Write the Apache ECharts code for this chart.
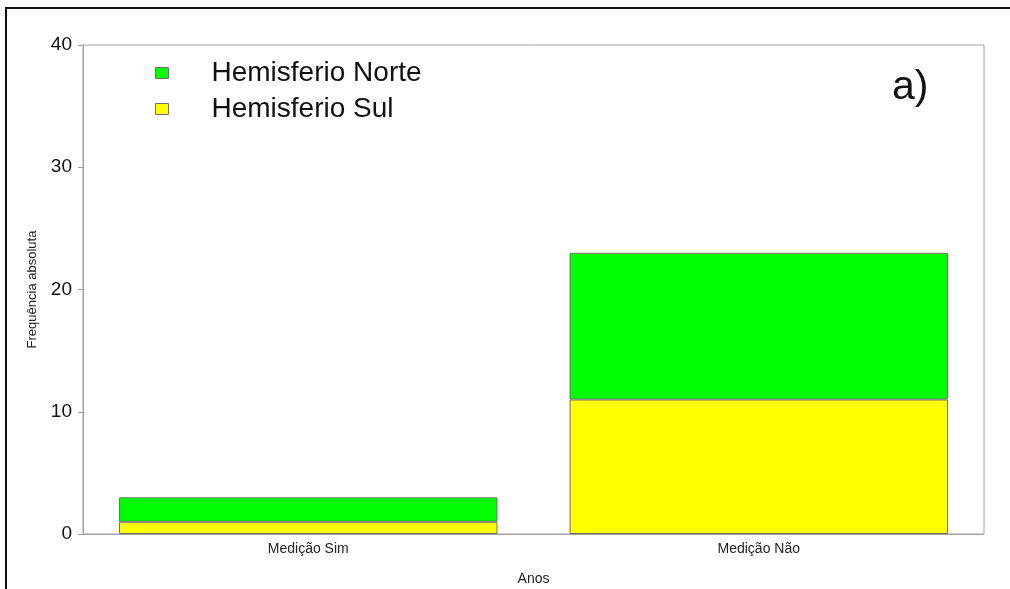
<!DOCTYPE html>
<html>
<head>
<meta charset="utf-8">
<script src="https://cdn.jsdelivr.net/npm/echarts@6/dist/echarts.min.js"></script>
<style>
  html, body { margin: 0; padding: 0; background: #fff; }
  #chart { width: 1010px; height: 589px; }
</style>
</head>
<body>
<div id="chart"></div>
<script>
// categorias e valores (frequência absoluta)
const categorias = ['Medição Sim', 'Medição Não'];
const hemisferioSul = [1, 11];
const hemisferioNorte = [2, 12];
const yTicks = [0, 10, 20, 30, 40];

const chart = echarts.init(document.getElementById('chart'));
const fonte = '"Liberation Sans", Arial, sans-serif';

const option = {
  animation: false,
  textStyle: { fontFamily: fonte },
  grid: {
    left: 83,
    right: 26,
    top: 45,
    bottom: 55,
    outerBoundsMode: 'none',
    show: true,
    borderColor: '#a0a0a0',
    borderWidth: 1
  },
  graphic: [
    {
      type: 'polyline',
      shape: { points: [[6, 589], [6, 8], [1010, 8]] },
      style: { stroke: '#111', lineWidth: 2, fill: null }
    },
    {
      type: 'text',
      left: 892,
      top: 67,
      style: { text: 'a)', font: '41px ' + fonte, fill: '#111' }
    }
  ],
  legend: {
    orient: 'vertical',
    left: 150,
    top: 54,
    icon: 'rect',
    itemWidth: 13,
    itemHeight: 11,
    itemGap: 8,
    data: ['Hemisferio Norte', 'Hemisferio Sul'],
    itemStyle: { borderColor: '#707070', borderWidth: 1 },
    textStyle: { fontSize: 28, color: '#111', padding: [0, 0, 0, 38] }
  },
  xAxis: {
    type: 'category',
    data: categorias,
    name: 'Anos',
    nameLocation: 'middle',
    nameGap: 38,
    nameTextStyle: { fontSize: 14, color: '#222' },
    axisLine: { lineStyle: { color: '#a0a0a0' } },
    axisTick: { show: false },
    axisLabel: { fontSize: 14, color: '#222', margin: 8 }
  },
  yAxis: {
    type: 'value',
    min: yTicks[0],
    max: yTicks[yTicks.length - 1],
    interval: 10,
    name: 'Frequência absoluta',
    nameLocation: 'middle',
    nameGap: 44,
    nameTextStyle: { fontSize: 13, color: '#222' },
    splitLine: { show: false },
    axisLine: { show: true, lineStyle: { color: '#a0a0a0' } },
    axisTick: { show: true, length: 5, lineStyle: { color: '#a0a0a0' } },
    axisLabel: { fontSize: 19, color: '#111', margin: 11 }
  },
  series: [
    {
      name: 'Hemisferio Sul',
      type: 'bar',
      stack: 'total',
      barWidth: '84%',
      data: hemisferioSul,
      itemStyle: { color: '#ffff00', borderColor: '#707070', borderWidth: 1 }
    },
    {
      name: 'Hemisferio Norte',
      type: 'bar',
      stack: 'total',
      barWidth: '84%',
      data: hemisferioNorte,
      itemStyle: { color: '#00ff00', borderColor: '#707070', borderWidth: 1 }
    }
  ]
};

chart.setOption(option);
</script>
</body>
</html>
